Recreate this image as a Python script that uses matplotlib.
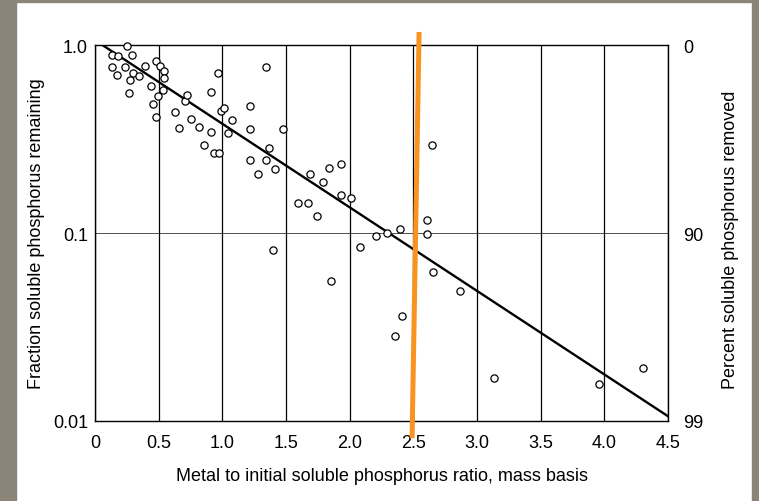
import numpy as np
import matplotlib.pyplot as plt
from matplotlib.patches import Rectangle

plt.rcParams['font.family'] = ['Liberation Sans', 'DejaVu Sans']

# points : rapport metal / P initial et fraction de P restante
ratio = [0.255, 0.131, 0.177, 0.288, 0.137, 0.170, 0.238, 0.299, 0.275, 0.342,
         0.267, 0.394, 0.475, 0.507, 0.540, 0.540, 0.530, 0.496, 0.442, 0.458,
         0.477, 0.628, 0.657, 0.707, 0.723, 0.754, 0.819, 0.859, 0.910, 0.935,
         0.976, 0.910, 0.964, 0.990, 1.011, 1.047, 1.076, 1.218, 1.218, 1.215,
         1.278, 1.343, 1.363, 1.412, 1.346, 1.474, 1.595, 1.673, 1.744, 1.689,
         1.791, 1.836, 1.934, 1.934, 2.013, 2.084, 2.205, 2.294, 2.398, 2.606,
         2.606, 2.645, 1.396, 1.852, 2.655, 2.867, 2.412, 2.358, 3.134, 3.959,
         4.307]
fraction = [0.99, 0.89, 0.876, 0.887, 0.764, 0.694, 0.764, 0.716, 0.658, 0.688,
            0.561, 0.775, 0.829, 0.778, 0.733, 0.669, 0.581, 0.536, 0.608, 0.485,
            0.415, 0.445, 0.364, 0.508, 0.543, 0.404, 0.370, 0.296, 0.348, 0.267,
            0.267, 0.563, 0.711, 0.448, 0.465, 0.341, 0.400, 0.478, 0.359, 0.245,
            0.207, 0.245, 0.286, 0.221, 0.768, 0.361, 0.145, 0.145, 0.124, 0.206,
            0.187, 0.222, 0.234, 0.160, 0.154, 0.0848, 0.097, 0.100, 0.105, 0.117,
            0.0995, 0.296, 0.0814, 0.0559, 0.0619, 0.0490, 0.0364, 0.0284, 0.0169, 0.0157,
            0.0191]

# droite de tendance tracee sur la figure
fit_x = [0.063, 4.5]
fit_y = [1.0, 0.0106]

# trait orange ajoute sur le scan
mark_x = [2.545, 2.49]
mark_y = [1.18, 0.0081]

xticks = [0, 0.5, 1.0, 1.5, 2.0, 2.5, 3.0, 3.5, 4.0, 4.5]
xlabels = ['0', '0.5', '1.0', '1.5', '2.0', '2.5', '3.0', '3.5', '4.0', '4.5']
yticks = [1.0, 0.1, 0.01]
ylabels_left = ['1.0', '0.1', '0.01']
ylabels_right = ['0', '90', '99']

fig = plt.figure(figsize=(7.59, 5.02), dpi=100)

# bords gris du scan
gray = '#8b8478'
fig.patches.append(Rectangle((0, 0), 16 / 759, 1, transform=fig.transFigure, color=gray, zorder=-1))
fig.patches.append(Rectangle((0, 1 - 3 / 502), 1, 3 / 502, transform=fig.transFigure, color=gray, zorder=-1))
fig.patches.append(Rectangle((752 / 759, 0), 7 / 759, 1, transform=fig.transFigure, color=gray, zorder=-1))

ax = fig.add_axes([0.1252, 0.1594, 0.7549, 0.748])
ax.set_yscale('log')
ax.set_xlim(0, 4.5)
ax.set_ylim(0.01, 1.0)

ax.set_xticks(xticks, xlabels)
ax.set_yticks(yticks, ylabels_left)
ax.yaxis.set_minor_locator(plt.NullLocator())
ax.tick_params(axis='x', length=0, pad=9.5, labelsize=13)
ax.tick_params(axis='y', length=0, pad=5, labelsize=13)

ax.xaxis.grid(True, color='black', lw=0.9)
ax.yaxis.grid(True, color='#333333', lw=0.6)
ax.set_axisbelow(True)
for s in ax.spines.values():
    s.set_linewidth(1.0)
    s.set_color('black')

ax.plot(fit_x, fit_y, color='black', lw=1.7, zorder=3)
ax.plot(ratio, fraction, 'o', ms=5.2, mfc='white', mec='black', mew=0.9, zorder=4, clip_on=False)
ax.plot(mark_x, mark_y, color='#f7931e', lw=3.6, zorder=5, clip_on=False, solid_capstyle='butt')

ax.set_xlabel('Metal to initial soluble phosphorus ratio, mass basis', fontsize=13)
ax.set_ylabel('Fraction soluble phosphorus remaining', fontsize=13)
ax.xaxis.set_label_coords(0.5, -0.122)
ax.yaxis.set_label_coords(-0.087, 0.502)

ax2 = ax.twinx()
ax2.set_yscale('log')
ax2.set_ylim(0.01, 1.0)
ax2.set_yticks(yticks, ylabels_right)
ax2.yaxis.set_minor_locator(plt.NullLocator())
ax2.tick_params(axis='y', length=0, pad=11, labelsize=13)
ax2.set_ylabel('Percent soluble phosphorus removed', fontsize=13, rotation=90)
ax2.yaxis.set_label_coords(1.095, 0.486)
for s in ax2.spines.values():
    s.set_visible(False)

fig.savefig('out.png', dpi=100)
